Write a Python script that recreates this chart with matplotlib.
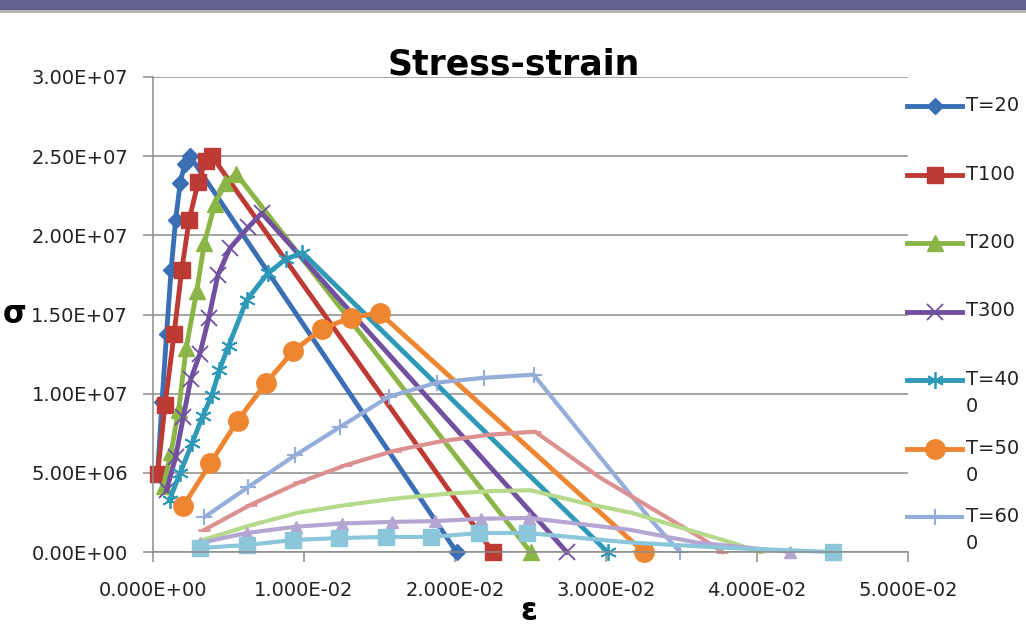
import matplotlib
matplotlib.use("Agg")
import matplotlib.pyplot as plt
from matplotlib.lines import Line2D
from matplotlib.patches import Rectangle
from matplotlib.ticker import FuncFormatter, MultipleLocator

plt.rcParams['font.family'] = ['DejaVu Sans']

# strain / stress (ascending points carry markers, the
# descending branch ends at a marked zero point)
eps_20 = [0.0003, 0.0006, 0.0009, 0.0012, 0.0015, 0.0018, 0.0021, 0.00245, 0.0201]
sig_20 = [4.9e6, 9.5e6, 1.38e7, 1.78e7, 2.1e7, 2.33e7, 2.45e7, 2.5e7, 0]

eps_100 = [0.0003, 0.0008, 0.0014, 0.0019, 0.0024, 0.0030, 0.0035, 0.0039, 0.0225]
sig_100 = [4.9e6, 9.3e6, 1.38e7, 1.78e7, 2.1e7, 2.34e7, 2.47e7, 2.5e7, 0]

eps_200 = [0.0007, 0.0012, 0.0017, 0.0022, 0.0029, 0.0034, 0.0041, 0.0048, 0.0055, 0.0250]
sig_200 = [4.2e6, 6.3e6, 9.0e6, 1.29e7, 1.65e7, 1.95e7, 2.2e7, 2.33e7, 2.39e7, 0]

eps_300 = [0.0009, 0.0015, 0.0020, 0.0025, 0.0031, 0.0037, 0.0043, 0.0051, 0.0063, 0.0072, 0.0274]
sig_300 = [3.9e6, 6.0e6, 8.5e6, 1.09e7, 1.25e7, 1.48e7, 1.75e7, 1.92e7, 2.05e7, 2.14e7, 0]

eps_400 = [0.0011, 0.0018, 0.0026, 0.0033, 0.0039, 0.0044, 0.0050, 0.0062, 0.0076, 0.0088, 0.0099, 0.0301]
sig_400 = [3.3e6, 5.0e6, 6.9e6, 8.6e6, 9.9e6, 1.15e7, 1.3e7, 1.59e7, 1.76e7, 1.85e7, 1.89e7, 0]

eps_500 = [0.0020, 0.0038, 0.0056, 0.0075, 0.0093, 0.0112, 0.0131, 0.0150, 0.0325]
sig_500 = [2.9e6, 5.6e6, 8.3e6, 1.07e7, 1.27e7, 1.41e7, 1.48e7, 1.51e7, 0]

eps_600 = [0.0034, 0.0063, 0.0094, 0.0124, 0.0156, 0.0188, 0.0219, 0.0252, 0.0330, 0.0349]
sig_600 = [2.2e6, 4.1e6, 6.1e6, 7.9e6, 9.8e6, 1.07e7, 1.1e7, 1.12e7, 2.0e6, 0]

eps_700 = [0.0034, 0.0065, 0.0097, 0.0128, 0.0160, 0.0191, 0.0222, 0.0253, 0.0296, 0.0340, 0.0362, 0.0377]
sig_700 = [1.4e6, 3.0e6, 4.4e6, 5.5e6, 6.4e6, 7.0e6, 7.4e6, 7.6e6, 4.7e6, 2.2e6, 9.5e5, 0]

eps_800 = [0.0033, 0.0065, 0.0097, 0.0130, 0.0163, 0.0197, 0.0225, 0.0250, 0.0285, 0.0318, 0.0351, 0.0384, 0.0402]
sig_800 = [7.6e5, 1.7e6, 2.5e6, 3.0e6, 3.4e6, 3.7e6, 3.85e6, 3.9e6, 3.1e6, 2.45e6, 1.5e6, 5.7e5, 0]

eps_900 = [0.0031, 0.0062, 0.0095, 0.0125, 0.0158, 0.0187, 0.0217, 0.0249, 0.0316, 0.0360, 0.0422]
sig_900 = [5.7e5, 1.2e6, 1.6e6, 1.8e6, 1.9e6, 1.95e6, 2.1e6, 2.15e6, 1.4e6, 6e5, 0]

eps_1000 = [0.0031, 0.0062, 0.0093, 0.0123, 0.0154, 0.0184, 0.0216, 0.0248, 0.0316, 0.0382, 0.0450]
sig_1000 = [2.5e5, 4.4e5, 7.6e5, 8.8e5, 9.5e5, 9.5e5, 1.2e6, 1.2e6, 6e5, 2.5e5, 0]

labels = ["T=20", "T100", "T200", "T300", "T=40\n0", "T=50\n0", "T=60\n0",
          "T=70\n0", "T=80\n0", "T=90\n0", "T=10\n00"]

series = [(eps_20, sig_20), (eps_100, sig_100), (eps_200, sig_200), (eps_300, sig_300),
          (eps_400, sig_400), (eps_500, sig_500), (eps_600, sig_600), (eps_700, sig_700),
          (eps_800, sig_800), (eps_900, sig_900), (eps_1000, sig_1000)]

# colour, marker, size, marker edge width, line width, number of descending (unmarked) pts
styles = [
    ("#3A6EB5", "D", 8, 1.0, 3.5, 0),
    ("#BE3A34", "s", 12, 1.0, 3.5, 0),
    ("#8CB547", "^", 12, 1.0, 3.5, 0),
    ("#7150A0", "x", 11, 1.3, 3.5, 0),
    ("#2F9AB8", (6, 2, 0), 12, 1.3, 3.5, 0),
    ("#EE8631", "o", 14, 1.0, 3.5, 0),
    ("#95ADD9", "+", 12, 1.5, 3.0, 1),
    ("#DD9090", "_", 8, 2.0, 3.0, 3),
    ("#B7D98C", "_", 6, 2.0, 3.0, 4),
    ("#B5A5D3", "^", 9, 1.0, 3.0, 2),
    ("#8CC6DB", "s", 12, 1.0, 3.0, 2),
]

W, H = 1026, 631
fig = plt.figure(figsize=(W / 100, H / 100), dpi=100)
ax = fig.add_axes([153 / W, 1 - 552 / H, (908 - 153) / W, (552 - 77) / H])

# slide banner at the very top
fig.add_artist(Rectangle((0, 1 - 10 / H), 1, 10 / H, transform=fig.transFigure,
                         color="#62628F", lw=0))
fig.add_artist(Rectangle((0, 1 - 13 / H), 1, 3 / H, transform=fig.transFigure,
                         color="#B4B4B4", lw=0))

handles = []
for (x, y), lab, (c, m, ms, mew, lw, ndesc) in zip(series, labels, styles):
    n = len(x)
    mk = list(range(n - 1 - ndesc)) + [n - 1]
    ln, = ax.plot(x, y, color=c, lw=lw, marker=m, markersize=ms, markeredgewidth=mew,
                  markevery=mk, clip_on=False, label=lab, solid_joinstyle="round")
    handles.append(ln)

ax.set_xlim(0, 0.05)
ax.set_ylim(0, 3.0e7)
ax.xaxis.set_major_locator(MultipleLocator(0.01))
ax.yaxis.set_major_locator(MultipleLocator(5e6))
ax.xaxis.set_major_formatter(FuncFormatter(lambda v, p: f"{v:.3E}"))
ax.yaxis.set_major_formatter(FuncFormatter(lambda v, p: f"{v:.2E}"))

ax.grid(axis="y", color="#8C8C8C", lw=1.1)
ax.set_axisbelow(True)
for s in ["top", "right"]:
    ax.spines[s].set_visible(False)
for s in ["left", "bottom"]:
    ax.spines[s].set_color("#8C8C8C")
    ax.spines[s].set_linewidth(1.1)
ax.tick_params(axis="both", direction="out", length=7, width=1.1, color="#8C8C8C",
               labelsize=14, labelcolor="#222222")
ax.tick_params(axis="y", pad=11)
ax.tick_params(axis="x", pad=14)

ax.text(0.478, 1.006, "Stress-strain", transform=ax.transAxes, ha="center",
        va="baseline", fontsize=25, fontweight="bold")
ax.set_ylabel("σ", rotation=0, fontsize=22, fontweight="bold", va="center")
ax.yaxis.set_label_coords(-0.183, 0.5)
ax.set_xlabel("ε", fontsize=22, fontweight="bold", va="center")
ax.xaxis.set_label_coords(0.498, -0.126)

# legend at the right edge, cut off by the figure like the original
x0, x1, xt = 907 / W, 962 / W, 966 / W
y0, dy = 106, 68.5
for i, h in enumerate(handles[:7]):
    yf = 1 - (y0 + i * dy) / H
    fig.add_artist(Line2D([x0, (x0 + x1) / 2, x1], [yf, yf, yf], transform=fig.transFigure,
                          color=h.get_color(), lw=h.get_linewidth(), marker=h.get_marker(),
                          markersize=h.get_markersize(), markeredgewidth=h.get_markeredgewidth(),
                          markevery=[1]))
    fig.text(xt, yf + 10 / H, labels[i], fontsize=14, va="top", ha="left",
             linespacing=1.55, color="#222222")

fig.savefig("out.png", dpi=100)
